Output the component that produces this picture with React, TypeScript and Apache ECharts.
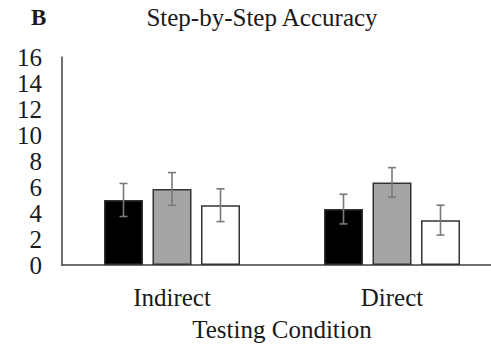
import React, { useEffect, useRef } from "react";
import * as echarts from "echarts";

const categories = ["Indirect", "Direct"];
const seriesNames = ["Condition A", "Condition B", "Condition C"];
const blackValues = [5.0, 4.3];
const grayValues = [5.85, 6.35];
const whiteValues = [4.6, 3.45];
const blackErrors = [1.27, 1.14];
const grayErrors = [1.26, 1.14];
const whiteErrors = [1.26, 1.15];
const yTicks = [0, 2, 4, 6, 8, 10, 12, 14, 16];

const FONT = "'Liberation Serif', 'Times New Roman', serif";
const BAR_W = 39;
const BAR_GAP = 9.5;

export default function App() {
  const ref = useRef<HTMLDivElement>(null);
  useEffect(() => {
    document.body.style.margin = "0";
    if (!ref.current) return;
    const chart = echarts.init(ref.current, undefined, { renderer: "svg" });
    const valueSets = [blackValues, grayValues, whiteValues];
    const errorSets = [blackErrors, grayErrors, whiteErrors];
    const fills = ["#000000", "#a5a5a5", "#ffffff"];
    const errData: number[][] = [];
    valueSets.forEach((vals, k) => {
      vals.forEach((v, i) => {
        errData.push([i, v - errorSets[k][i], v + errorSets[k][i], k]);
      });
    });
    chart.setOption({
      animation: false,
      backgroundColor: "#ffffff",
      grid: { left: 62, top: 57, width: 440, height: 208 },
      graphic: [
        {
          type: "text",
          x: 31,
          y: 6,
          style: { text: "B", font: `bold 23px ${FONT}`, fill: "#1a1a1a" },
        },
        {
          type: "text",
          x: 262,
          y: 5,
          style: {
            text: "Step-by-Step Accuracy",
            font: `25px ${FONT}`,
            fill: "#1a1a1a",
            textAlign: "center",
            align: "center",
          },
        },
      ],
      xAxis: {
        type: "category",
        data: categories,
        axisLine: { lineStyle: { color: "#404040", width: 1.5 } },
        axisTick: { show: false },
        axisLabel: { margin: 20, fontFamily: FONT, fontSize: 25, color: "#1a1a1a" },
        name: "Testing Condition",
        nameLocation: "middle",
        nameGap: 52,
        nameTextStyle: { fontFamily: FONT, fontSize: 25, color: "#1a1a1a" },
      },
      yAxis: {
        type: "value",
        min: yTicks[0],
        max: yTicks[yTicks.length - 1],
        interval: 2,
        splitLine: { show: false },
        axisLine: { show: true, lineStyle: { color: "#404040", width: 1.5 } },
        axisTick: { show: false },
        axisLabel: { margin: 20, fontFamily: FONT, fontSize: 25, color: "#1a1a1a" },
      },
      series: [
        ...valueSets.map((vals, k) => ({
          type: "bar",
          name: seriesNames[k],
          data: vals,
          barWidth: BAR_W,
          barGap: `${(BAR_GAP / BAR_W) * 100}%`,
          itemStyle: { color: fills[k], borderColor: "#333333", borderWidth: 1.5 },
        })),
        {
          type: "custom",
          name: "errors",
          data: errData,
          z: 10,
          renderItem: (params: any, api: any) => {
            const cat = api.value(0);
            const lo = api.value(1);
            const hi = api.value(2);
            const k = api.value(3);
            const pLo = api.coord([cat, lo]);
            const pHi = api.coord([cat, hi]);
            const x = pLo[0] + (k - 1) * (BAR_W + BAR_GAP);
            const cap = 4;
            const style = { stroke: "#7a7a7a", lineWidth: 1.6 };
            return {
              type: "group",
              children: [
                { type: "line", shape: { x1: x, y1: pLo[1], x2: x, y2: pHi[1] }, style },
                { type: "line", shape: { x1: x - cap, y1: pLo[1], x2: x + cap, y2: pLo[1] }, style },
                { type: "line", shape: { x1: x - cap, y1: pHi[1], x2: x + cap, y2: pHi[1] }, style },
              ],
            };
          },
        },
      ],
    });
    return () => chart.dispose();
  }, []);
  return (
    <div style={{ width: 491, height: 348, overflow: "hidden", position: "relative" }}>
      <div ref={ref} style={{ width: 520, height: 348 }} />
    </div>
  );
}
